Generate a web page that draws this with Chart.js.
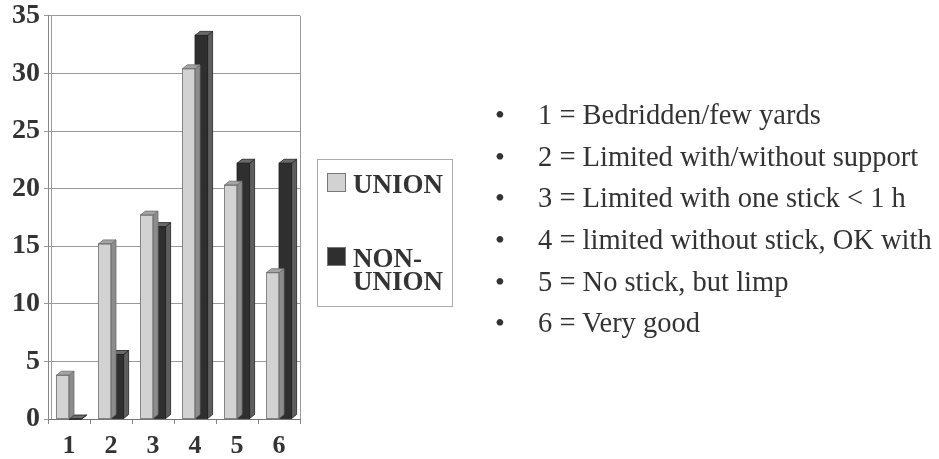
<!DOCTYPE html>
<html>
<head>
<meta charset="utf-8">
<script src="https://cdn.jsdelivr.net/npm/chart.js@4/dist/chart.umd.min.js"></script>
<style>
  html, body { margin: 0; padding: 0; background: #fff; }
  #wrap { position: relative; width: 939px; height: 459px; overflow: hidden; }
  #c { position: absolute; left: 0; top: -5px; }
  #legend {
    position: absolute; left: 317px; top: 159px; width: 136px; height: 148px;
    border: 1px solid #aaa; box-sizing: border-box;
    font-family: "Liberation Serif", "Times New Roman", serif; font-weight: bold;
    font-size: 27px; color: #333; line-height: 23px;
  }
  .item { position: absolute; left: 9px; display: flex; align-items: flex-start; }
  .sw { width: 19px; height: 19px; box-sizing: border-box; border: 1px solid #777; margin-right: 7px; flex: none; }
  #notes {
    position: absolute; left: 490px; top: 97px; margin: 0; padding: 0; list-style: none;
    font-family: "Liberation Serif", "Times New Roman", serif; font-size: 28.5px; color: #333;
  }
  #notes li { position: relative; height: 41.7px; line-height: 36px; padding-left: 48px; white-space: nowrap; }
  #notes li::before { content: "\2022"; position: absolute; left: 5px; font-size: 28px; }
</style>
</head>
<body>
<div id="wrap">
  <canvas id="c" width="939" height="464"></canvas>
  <div id="legend"></div>
  <ul id="notes"></ul>
</div>
<script>
// Walking ability score (1–6), percentage of patients in each group
const categories = ["1", "2", "3", "4", "5", "6"];
const unionValues = [3.8, 15.2, 17.7, 30.4, 20.3, 12.7];
const nonUnionValues = [0, 5.6, 16.7, 33.3, 22.2, 22.2];
const seriesNames = ["UNION", ["NON-", "UNION"]];
const yTicks = [0, 5, 10, 15, 20, 25, 30, 35];
const scoreKey = [
  "1 = Bedridden/few yards",
  "2 = Limited with/without support",
  "3 = Limited with one stick < 1 h",
  "4 = limited without stick, OK with",
  "5 = No stick, but limp",
  "6 = Very good"
];

const faces = [
  { front: "#d2d2d2", side: "#8c8c8c", top: "#a4a4a4", edge: "#6e6e6e" },
  { front: "#2f2f2f", side: "#5e5e5e", top: "#6a6a6a", edge: "#222" }
];

// Draws the top and right faces of each bar to give it depth
const depthBars = {
  id: "depthBars",
  afterDatasetDraw(chart, args) {
    const meta = args.meta;
    const f = faces[args.index];
    const ctx = chart.ctx;
    const dx = 5, dy = 4;
    ctx.save();
    meta.data.forEach(bar => {
      const p = bar.getProps(["x", "y", "base", "width"], true);
      const l = p.x - p.width / 2, r = p.x + p.width / 2;
      const t = Math.min(p.y, p.base), b = p.base;
      ctx.lineWidth = 0.8;
      ctx.strokeStyle = f.edge;
      // side face
      ctx.beginPath();
      ctx.moveTo(r, t); ctx.lineTo(r + dx, t - dy); ctx.lineTo(r + dx, b - dy); ctx.lineTo(r, b);
      ctx.closePath(); ctx.fillStyle = f.side; ctx.fill(); ctx.stroke();
      // top face
      ctx.beginPath();
      ctx.moveTo(l, t); ctx.lineTo(l + dx, t - dy); ctx.lineTo(r + dx, t - dy); ctx.lineTo(r, t);
      ctx.closePath(); ctx.fillStyle = f.top; ctx.fill(); ctx.stroke();
      // front outline
      ctx.strokeRect(l, t, r - l, b - t);
    });
    ctx.restore();
  }
};

// Back wall right edge and the inner edge of the side wall
const wallFrame = {
  id: "wallFrame",
  beforeDatasetsDraw(chart) {
    const a = chart.chartArea, ctx = chart.ctx;
    ctx.save();
    ctx.strokeStyle = "#9a9a9a";
    ctx.lineWidth = 1;
    ctx.beginPath();
    ctx.moveTo(a.right + 0.5, a.top); ctx.lineTo(a.right + 0.5, a.bottom);
    ctx.moveTo(a.left + 3.5, a.top); ctx.lineTo(a.left + 3.5, a.bottom);
    ctx.stroke();
    ctx.restore();
  }
};

const chart = new Chart(document.getElementById("c"), {
  type: "bar",
  data: {
    labels: categories,
    datasets: [
      { label: "UNION", data: unionValues, backgroundColor: faces[0].front, borderWidth: 0 },
      { label: "NON-UNION", data: nonUnionValues, backgroundColor: faces[1].front, borderWidth: 0 }
    ]
  },
  options: {
    responsive: false,
    animation: false,
    devicePixelRatio: 1,
    layout: { padding: { left: 8, right: 639, top: -3, bottom: 0 } },
    datasets: { bar: { categoryPercentage: 0.6, barPercentage: 1.0 } },
    plugins: { legend: { display: false }, tooltip: { enabled: false } },
    scales: {
      x: {
        afterFit(scale) { scale.height = 40; },
        grid: { display: true, drawOnChartArea: false, drawTicks: true, tickLength: 5, color: "#888", offset: true },
        border: { display: true, color: "#777", width: 1 },
        ticks: { color: "#333", padding: 7, font: { family: "Liberation Serif", size: 26, weight: "bold" } }
      },
      y: {
        min: 0, max: 35,
        afterBuildTicks(scale) { scale.ticks = yTicks.map(v => ({ value: v })); },
        grid: { color: "#9a9a9a", tickLength: 4, drawTicks: true },
        border: { display: true, color: "#888", width: 1 },
        ticks: { color: "#333", padding: 4, font: { family: "Liberation Serif", size: 28, weight: "bold" } }
      }
    }
  },
  plugins: [wallFrame, depthBars]
});

// Legend built from the chart's datasets
const legend = document.getElementById("legend");
const tops = [13, 87];
chart.data.datasets.forEach((ds, i) => {
  const item = document.createElement("div");
  item.className = "item";
  item.style.top = tops[i] + "px";
  const sw = document.createElement("div");
  sw.className = "sw";
  sw.style.background = ds.backgroundColor;
  const txt = document.createElement("div");
  const name = seriesNames[i];
  txt.innerHTML = Array.isArray(name) ? name.join("<br>") : name;
  item.appendChild(sw); item.appendChild(txt);
  legend.appendChild(item);
});

const notes = document.getElementById("notes");
scoreKey.forEach(s => {
  const li = document.createElement("li");
  li.textContent = s;
  notes.appendChild(li);
});
</script>
</body>
</html>
